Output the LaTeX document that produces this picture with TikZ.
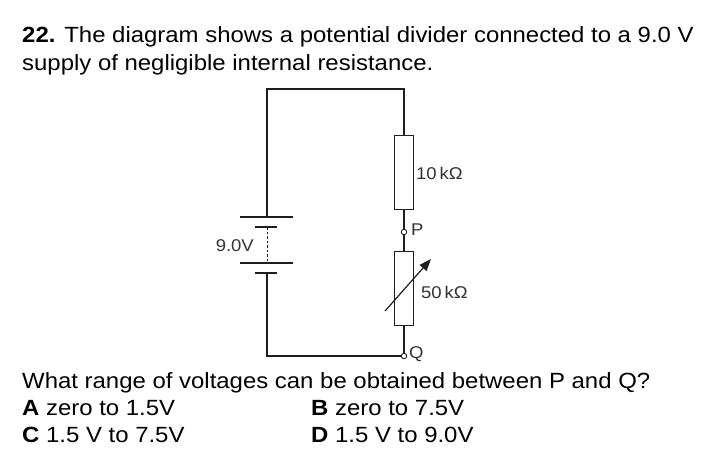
\documentclass[tikz,border=0pt]{standalone}
\usepackage{fontspec}
\setmainfont{Liberation Sans}
\newfontfamily\qfont[FakeStretch=1.088]{Liberation Sans}
\usetikzlibrary{arrows.meta}
\definecolor{ink}{HTML}{1E1E1E}
\definecolor{lab}{HTML}{333333}
\begin{document}
\begin{tikzpicture}[x=1pt,y=-1pt,
  wire/.style={draw=ink,line width=1.3pt},
  resbox/.style={draw=ink,line width=1pt,fill=white,minimum width=19pt,minimum height=74pt,inner sep=0pt},
  term/.style={circle,draw=ink,line width=0.9pt,fill=white,minimum size=5.5pt,inner sep=0pt},
  plate/.style={draw=ink,line width=1.3pt},
  clab/.style={text=lab,font=\qfont\fontsize{17}{19}\selectfont,inner sep=0pt},
  qtext/.style={anchor=base west,inner sep=0pt,text=black,font=\qfont\fontsize{22}{27}\selectfont},
]
\useasboundingbox (0,0) rectangle (706,471);
\fill[white] (0,0) rectangle (706,471);

% question text
\node[qtext] (t1) at (22,42) {\textbf{22.} The diagram shows a potential divider connected to a 9.0 V};
\node[qtext] (t2) at (22,70) {supply of negligible internal resistance.};

% circuit coordinates
\coordinate (tl) at (267,89);
\coordinate (tr) at (404,89);
\coordinate (bl) at (267,356);
\coordinate (b1) at (267,217);
\coordinate (b2) at (267,227);
\coordinate (b3) at (267,263);
\coordinate (b4) at (267,273);

\node[resbox] (r1) at (404,172) {};
\node[resbox] (r2) at (404,288) {};
\node[term] (P) at (404,232) {};
\node[term] (Q) at (404,356) {};

% wires
\draw[wire] (b1) -- (tl) -- (tr) -- (r1.north);
\draw[wire] (r1.south) -- (P);
\draw[wire] (P) -- (r2.north);
\draw[wire] (r2.south) -- (Q);
\draw[wire] (Q) -- (bl) -- (b4);

% battery
\draw[plate] ([xshift=-27pt]b1) -- ([xshift=26pt]b1);
\draw[plate] ([xshift=-12pt]b2) -- ([xshift=10pt]b2);
\draw[plate] ([xshift=-27pt]b3) -- ([xshift=26pt]b3);
\draw[plate] ([xshift=-12pt]b4) -- ([xshift=10pt]b4);
\draw[ink,line width=0.8pt,dash pattern=on 2.5pt off 2pt] (b2) -- (b3);

% variable arrow
\coordinate (a1) at (385,311);
\coordinate (a2) at (431,259);
\draw[draw=ink,line width=1.2pt,-{Triangle[length=12pt,width=9pt]}] (a1) -- (a2);

% circuit labels
\node[clab,anchor=west] (l10) at (416,173) {10\,kΩ};
\node[clab,anchor=west] (lP) at (411,230) {P};
\node[clab,anchor=west] (l50) at (421,292) {50\,kΩ};
\node[clab,anchor=west] (lQ) at (409,354) {Q};
\node[clab,anchor=east] (lV) at (254,246) {9.0V};

% question and options
\node[qtext] (q) at (22,388) {What range of voltages can be obtained between P and Q?};
\node[qtext] (oA) at (22,415) {\textbf{A} zero to 1.5V};
\node[qtext] (oB) at (311,415) {\textbf{B} zero to 7.5V};
\node[qtext] (oC) at (22,442) {\textbf{C} 1.5 V to 7.5V};
\node[qtext] (oD) at (311,442) {\textbf{D} 1.5 V to 9.0V};
\end{tikzpicture}
\end{document}
